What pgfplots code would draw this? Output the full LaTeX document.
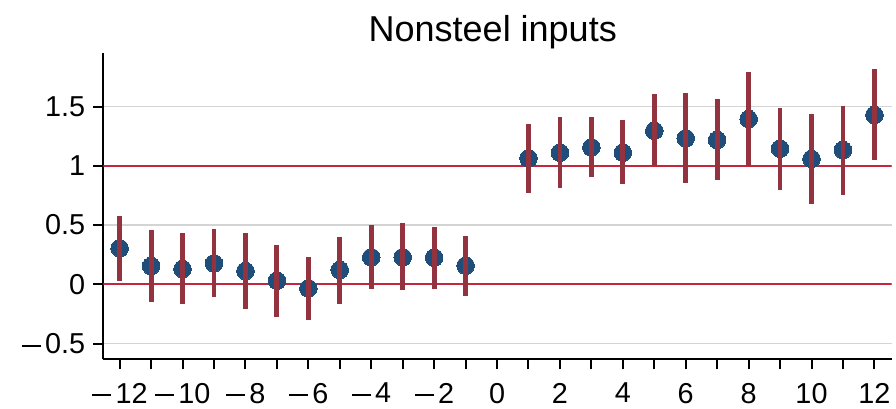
\documentclass[border=0pt]{standalone}
\usepackage{fontspec}
\setmainfont{Liberation Sans}
\usepackage{pgfplots}
\pgfplotsset{compat=1.18}
\usepackage{pgfplotstable}

\definecolor{dotnavy}{HTML}{1F4E7A}
\definecolor{barmaroon}{HTML}{933340}
\definecolor{refred}{HTML}{C4263C}
\definecolor{gridgray}{HTML}{D4D4D4}

% wide minus for tick labels
\newcommand\mn{\kern0.02em\rule[0.24em]{0.66em}{0.07em}\kern0.15em}

% event time, point estimate, lower and upper 95% bounds
\pgfplotstableread{
t    est     lo      hi
-12  0.304   0.030   0.579
-11  0.154  -0.147   0.458
-10  0.129  -0.166   0.430
-9   0.177  -0.104   0.464
-8   0.112  -0.211   0.436
-7   0.030  -0.273   0.332
-6  -0.034  -0.301   0.233
-5   0.121  -0.166   0.402
-4   0.228  -0.042   0.498
-3   0.228  -0.048   0.515
-2   0.225  -0.037   0.486
-1   0.157  -0.096   0.408
1    1.063   0.773   1.353
2    1.111   0.810   1.414
3    1.156   0.903   1.414
4    1.111   0.844   1.387
5    1.296   0.998   1.603
6    1.232   0.852   1.617
7    1.218   0.880   1.561
8    1.395   0.998   1.794
9    1.145   0.796   1.491
10   1.058   0.675   1.437
11   1.133   0.754   1.505
12   1.429   1.049   1.814
}\nonsteel

\begin{document}
\begin{tikzpicture}
\begin{axis}[
  scale only axis,
  width=394.2pt, height=153.15pt,
  xmin=-12.52, xmax=12.55,
  ymin=-0.633, ymax=1.952,
  clip mode=individual,
  axis x line*=bottom, axis y line*=left,
  axis line style={-, line width=1pt, black},
  tick align=outside,
  major tick length=5pt, minor tick length=5pt,
  every tick/.style={line width=1pt, black},
  xtick={-12,-10,...,12},
  xticklabels={\mn12,\mn10,\mn8,\mn6,\mn4,\mn2,0,2,4,6,8,10,12},
  minor xtick={-11,-9,...,11},
  ytick={-0.5,0,0.5,1,1.5},
  yticklabels={\mn0.5,0,0.5,1,1.5},
  ymajorgrids,
  grid style={gridgray, line width=0.75pt},
  tick label style={font=\fontsize{14.4}{16}\selectfont},
  xticklabel style={inner ysep=0pt, yshift=-6.6pt},
  yticklabel style={xshift=-0.5pt},
  every axis title shift=0pt,
  title={Nonsteel inputs},
  title style={font=\fontsize{18}{21}\selectfont,
    at={(rel axis cs:0.494,1)}, anchor=base, yshift=5.65pt},
]
  % reference lines at 0 and 1
  \addplot[refred, line width=1pt] coordinates {(-12.52,0) (12.55,0)};
  \addplot[refred, line width=1pt] coordinates {(-12.52,1) (12.55,1)};
  % point estimates
  \addplot[dotnavy, only marks, mark=*, mark size=4.4pt,
    mark options={draw=dotnavy, fill=dotnavy, line width=0pt}]
    table[x=t, y=est] {\nonsteel};
  % confidence intervals, drawn over the estimates
  \addplot[draw=none, no markers,
    error bars/.cd, y dir=both, y explicit, error mark=none,
    error bar style={draw=barmaroon, line width=2.4pt}]
    table[x=t, y=est,
      y error plus expr=\thisrow{hi}-\thisrow{est},
      y error minus expr=\thisrow{est}-\thisrow{lo}] {\nonsteel};
\end{axis}
\pgfresetboundingbox
\path[use as bounding box] (-51.65pt,-24.35pt) rectangle (396.35pt,179.65pt);
\end{tikzpicture}
\end{document}
